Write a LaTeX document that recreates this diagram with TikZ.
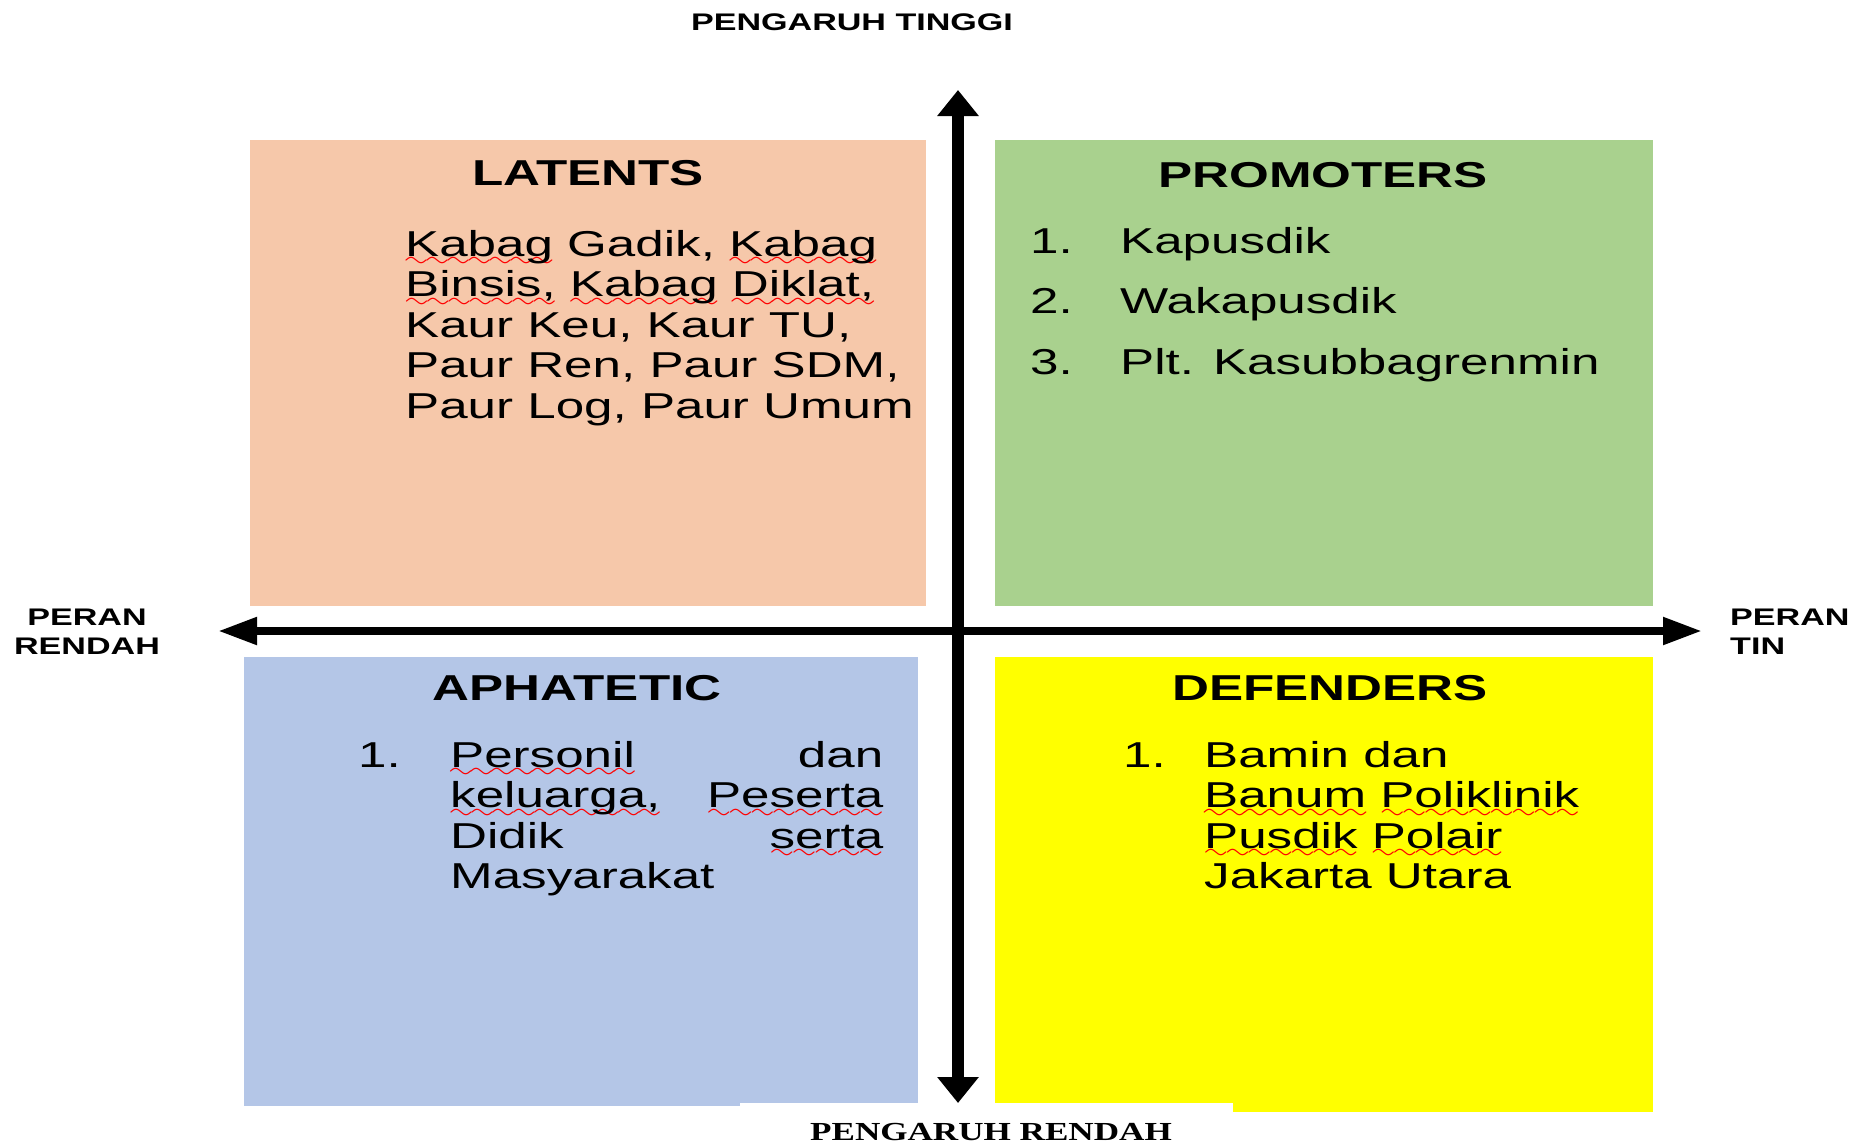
\documentclass[tikz,border=0pt]{standalone}
\usepackage{fontspec}
\setmainfont[FakeStretch=1.42]{Liberation Sans}
\newfontfamily\wideserif[FakeStretch=1.35]{Liberation Serif}
\usepackage{xcolor}
\usetikzlibrary{positioning,arrows.meta}

\definecolor{latfill}{HTML}{F6C8AA}
\definecolor{profill}{HTML}{A9D18E}
\definecolor{aphfill}{HTML}{B4C6E7}
\definecolor{deffill}{HTML}{FFFF00}

% red wavy line under a word
\font\wavefont=lasy6 at 24pt
\newsavebox\sqbox
\newcommand\sq[1]{\leavevmode\sbox\sqbox{#1}\rlap{\smash{\textcolor{red}{\lower10.5pt\hbox to \wd\sqbox{\xleaders\hbox{\wavefont\char58}\hfil}}}}\usebox\sqbox}
\newcommand\num[2]{\makebox[#1][l]{#2}}

\begin{document}
\begin{tikzpicture}[x=1pt, y=-1pt,
  quad/.style={fill=#1, inner sep=0pt, anchor=north west},
  title/.style={font=\fontsize{36}{41}\selectfont\bfseries, inner sep=0pt, anchor=base},
  body/.style={font=\fontsize{36}{40.6}\selectfont, inner sep=0pt, anchor=base west},
  axislabel/.style={font=\fontsize{24}{29}\selectfont\bfseries, inner sep=0pt, anchor=base},
  vaxis/.style={{Triangle[length=26pt,width=40pt]}-{Triangle[length=26pt,width=40pt]}, line width=12pt},
  haxis/.style={{Triangle[length=39pt,width=26pt]}-{Triangle[length=39pt,width=26pt]}, line width=8pt}]
\useasboundingbox (0,0) rectangle (1857,1144);
% quadrants
\node[quad=latfill, minimum width=676pt, minimum height=466pt] (lat) at (250,140) {};
\node[quad=profill, minimum width=658pt, minimum height=466pt] (pro) at (995,140) {};
\node[quad=aphfill, minimum width=674pt, minimum height=446pt] (aph) at (244,657) {};
\node[quad=aphfill, minimum width=496pt, minimum height=6pt] (aphx) at (244,1100) {};
\node[quad=deffill, minimum width=658pt, minimum height=446pt] (def) at (995,657) {};
\node[quad=deffill, minimum width=420pt, minimum height=12pt] (defx) at (1233,1100) {};
% axes
\coordinate (vtop) at (958,90);
\coordinate (vbot) at (958,1103);
\coordinate (hleft) at (218,631);
\coordinate (hright) at (1702,631);
\draw[vaxis] (vbot) -- (vtop);
\draw[haxis] (hleft) -- (hright);
% axis labels
\node[axislabel] (tinggi) at (852,30) {PENGARUH TINGGI};
\node[axislabel] (pRendah) at (87,625) {\begin{tabular}[t]{@{}c@{}}PERAN\\RENDAH\end{tabular}};
\node[axislabel, anchor=base west] (pTin) at (1730,625) {\begin{tabular}[t]{@{}l@{}}PERAN\\TIN\end{tabular}};
\node[axislabel, font=\wideserif\fontsize{26}{29}\selectfont\bfseries] (rendah) at (991,1140) {PENGARUH RENDAH};
% LATENTS
\node[title] (latT) at (588,185) {LATENTS};
\node[body] (latL) at (405,256) {\begin{tabular}[t]{@{}l@{}}
  \sq{Kabag} Gadik, \sq{Kabag}\\
  \sq{Binsis,} \sq{Kabag} \sq{Diklat,}\\
  Kaur Keu, Kaur TU,\\
  Paur Ren, Paur SDM,\\
  Paur Log, Paur Umum
\end{tabular}};
% PROMOTERS
\node[title] (proT) at (1323,187) {PROMOTERS};
\node[body, font=\fontsize{36}{60.5}\selectfont] (proL) at (1030,253) {\begin{tabular}[t]{@{}l@{}}
  \num{90pt}{1.}Kapusdik\\
  \num{90pt}{2.}Wakapusdik\\
  \num{90pt}{3.}Plt. Kasubbagrenmin
\end{tabular}};
% APHATETIC
\node[title] (aphT) at (577,700) {APHATETIC};
\node[body] (aphL) at (358,767) {\begin{tabular}[t]{@{}l@{}l@{}}
  \num{92pt}{1.} & \hbox to 433pt{\sq{Personil}\hfill dan}\\
  & \hbox to 433pt{\sq{keluarga,}\hfill\sq{Peserta}}\\
  & \hbox to 433pt{Didik\hfill\sq{serta}}\\
  & Masyarakat
\end{tabular}};
% DEFENDERS
\node[title] (defT) at (1330,700) {DEFENDERS};
\node[body] (defL) at (1123,767) {\begin{tabular}[t]{@{}l@{}l@{}}
  \num{81pt}{1.} & Bamin dan\\
  & \sq{Banum} \sq{Poliklinik}\\
  & \sq{Pusdik} \sq{Polair}\\
  & Jakarta Utara
\end{tabular}};
\end{tikzpicture}
\end{document}
